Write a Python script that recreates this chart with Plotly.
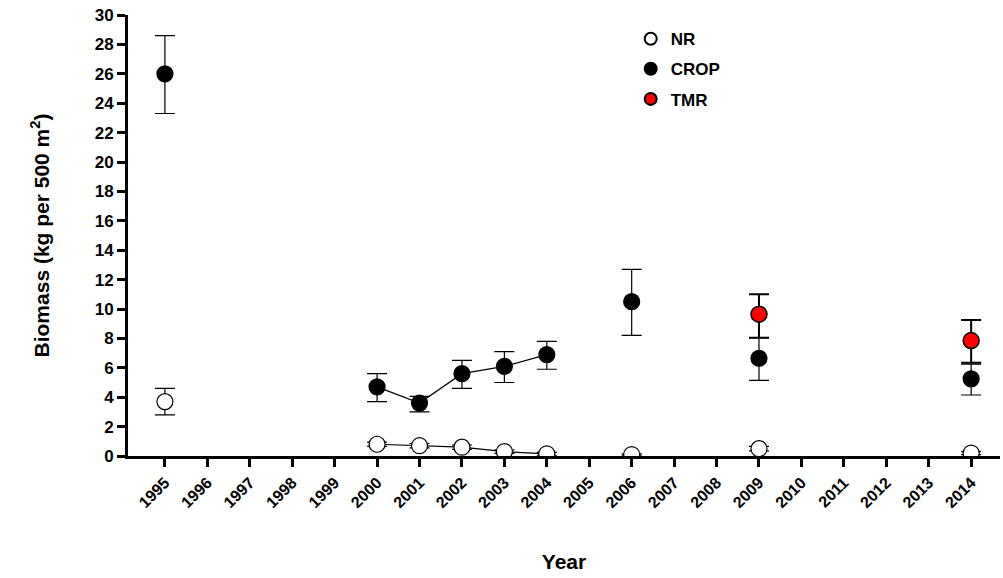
import plotly.graph_objects as go

years = [str(y) for y in range(1995, 2015)]

# NR series (years present, mean, error)
nr_years = ["1995", "2000", "2001", "2002", "2003", "2004", "2006", "2009", "2014"]
nr_vals = [3.7, 0.8, 0.7, 0.6, 0.3, 0.15, 0.1, 0.5, 0.2]
nr_err = [0.9, 0.15, 0.15, 0.15, 0.12, 0.1, 0.05, 0.15, 0.1]

crop_years = ["1995", "2000", "2001", "2002", "2003", "2004", "2006", "2009", "2014"]
crop_vals = [26.0, 4.7, 3.6, 5.6, 6.1, 6.9, 10.5, 6.65, 5.25]
crop_up = [2.6, 0.9, 0.45, 0.9, 1.0, 0.9, 2.2, 1.4, 1.0]
crop_down = [2.7, 1.0, 0.6, 1.0, 1.1, 1.0, 2.3, 1.5, 1.1]

tmr_years = ["2009", "2014"]
tmr_vals = [9.65, 7.85]
tmr_up = [1.35, 1.4]
tmr_down = [1.6, 1.5]

# years joined by a line in each series
joined = ["2000", "2001", "2002", "2003", "2004"]

FONT = "Liberation Sans, Arial, sans-serif"
idx = {y: i for i, y in enumerate(years)}


def line_xy(ys, vs):
    xs, vals = [], []
    for y, v in zip(ys, vs):
        if y in joined:
            xs.append(idx[y])
            vals.append(v)
    return xs, vals


fig = go.Figure()

# connecting lines (no legend)
for ys, vs in [(crop_years, crop_vals), (nr_years, nr_vals)]:
    lx, lv = line_xy(ys, vs)
    fig.add_trace(go.Scatter(x=lx, y=lv, mode="lines", line=dict(color="black", width=1.2),
                             showlegend=False, hoverinfo="skip"))

fig.add_trace(go.Scatter(
    x=[idx[y] for y in crop_years], y=crop_vals, mode="markers", name="CROP",
    legendrank=2, legendgroup="crop",
    marker=dict(size=16, color="black", line=dict(color="black", width=1.2)),
    error_y=dict(type="data", symmetric=False, array=crop_up, arrayminus=crop_down,
                 color="black", thickness=1.2, width=10),
))
fig.add_trace(go.Scatter(
    x=[idx[y] for y in nr_years], y=nr_vals, mode="markers", name="NR",
    legendrank=1, legendgroup="nr",
    marker=dict(size=16, color="white", line=dict(color="black", width=1.2)),
    error_y=dict(type="data", array=nr_err, color="black", thickness=1.2, width=10),
))
fig.add_trace(go.Scatter(
    x=[idx[y] for y in tmr_years], y=tmr_vals, mode="markers", name="TMR",
    legendrank=3, legendgroup="tmr",
    marker=dict(size=16, color="#ff0000", line=dict(color="black", width=1.5)),
    error_y=dict(type="data", symmetric=False, array=tmr_up, arrayminus=tmr_down,
                 color="black", thickness=2, width=10),
))

fig.update_layout(
    width=1003, height=578,
    margin=dict(l=128, r=3, t=15, b=122),
    paper_bgcolor="white", plot_bgcolor="white",
    font=dict(family=FONT, size=15, color="black"),
    showlegend=True,
    legend=dict(x=0.5765, y=0.986, xanchor="left", yanchor="top", traceorder="grouped",
                font=dict(family=FONT, size=17, color="black", weight="bold"),
                bgcolor="rgba(0,0,0,0)", itemsizing="constant", tracegroupgap=5),
)
fig.update_xaxes(
    range=[-0.87, 19.68], tickmode="array", tickvals=list(range(len(years))), ticktext=years,
    tickangle=-45, ticks="outside", ticklen=8, tickwidth=3, tickcolor="black",
    showline=True, linecolor="black", linewidth=3, showgrid=False, zeroline=False,
    tickfont=dict(family=FONT, size=16, color="black", weight="bold"),
    title=dict(text="Year", font=dict(family=FONT, size=21, color="black", weight="bold"), standoff=45),
)
fig.update_yaxes(
    range=[0, 30], tickmode="array", tickvals=list(range(0, 31, 2)),
    ticks="outside", ticklen=8, tickwidth=3, tickcolor="black",
    showline=True, linecolor="black", linewidth=3, showgrid=False, zeroline=False,
    tickfont=dict(family=FONT, size=17, color="black", weight="bold"),
    title=dict(text="Biomass (kg per 500 m<sup>2</sup>)",
               font=dict(family=FONT, size=21, color="black", weight="bold"), standoff=40),
)

fig.write_html("out.html")
